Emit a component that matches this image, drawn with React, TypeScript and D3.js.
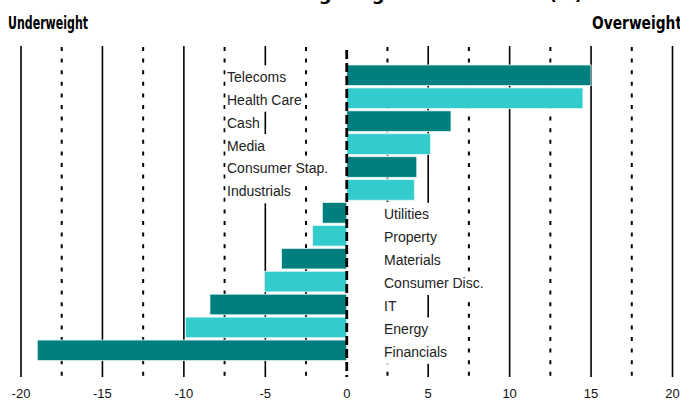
import React, { useEffect, useRef } from "react";
import * as d3 from "d3";

const categories = [
  "Telecoms",
  "Health Care",
  "Cash",
  "Media",
  "Consumer Stap.",
  "Industrials",
  "Utilities",
  "Property",
  "Materials",
  "Consumer Disc.",
  "IT",
  "Energy",
  "Financials",
];
const values = [15.0, 14.5, 6.4, 5.15, 4.3, 4.15, -1.5, -2.1, -4.0, -5.05, -8.4, -9.9, -19.0];
const tickValues = [-20, -15, -10, -5, 0, 5, 10, 15, 20];
const minorTicks = [-17.5, -12.5, -7.5, -2.5, 2.5, 7.5, 12.5, 17.5];
const titleText = "Portfolio sector weightings vs benchmark (%)";
const leftHeader = "Underweight";
const rightHeader = "Overweight";

const W = 680;
const H = 405;
const DARK = "#017f7f";
const LIGHT = "#33cccc";

export default function App() {
  const ref = useRef<SVGSVGElement | null>(null);

  useEffect(() => {
    const svg = d3.select(ref.current);
    svg.selectAll("*").remove();

    const x = d3.scaleLinear().domain([-20, 20]).range([21, 672.5]);
    const y = d3
      .scaleBand<string>()
      .domain(categories)
      .range([63.85, 361.8])
      .paddingInner(0.1)
      .paddingOuter(0.05);
    const step = y.step();
    const gridTop = 46;
    const gridBottom = 377;

    // title (cut off at top, as in the reference)
    svg
      .append("text")
      .attr("x", 352)
      .attr("y", -0.5)
      .attr("text-anchor", "middle")
      .attr("font-family", "'Liberation Sans Narrow', 'DejaVu Sans Condensed', sans-serif")
      .attr("font-weight", "bold")
      .attr("font-size", 18)
      .attr("textLength", 462)
      .attr("lengthAdjust", "spacingAndGlyphs")
      .attr("fill", "#000")
      .text(titleText);

    svg
      .append("text")
      .attr("x", 8)
      .attr("y", 29)
      .attr("font-family", "'Liberation Sans Narrow', 'DejaVu Sans Condensed', sans-serif")
      .attr("font-weight", "bold")
      .attr("font-size", 17)
      .attr("textLength", 80)
      .attr("lengthAdjust", "spacingAndGlyphs")
      .attr("fill", "#000")
      .text(leftHeader);

    svg
      .append("text")
      .attr("x", 592)
      .attr("y", 29)
      .attr("font-family", "'Liberation Sans Narrow', 'DejaVu Sans Condensed', sans-serif")
      .attr("font-weight", "bold")
      .attr("font-size", 17)
      .attr("textLength", 90)
      .attr("lengthAdjust", "spacingAndGlyphs")
      .attr("fill", "#000")
      .text(rightHeader);

    // gridlines
    const grid = svg.append("g");
    grid
      .selectAll("line.major")
      .data(tickValues.filter((d) => d !== 0))
      .join("line")
      .attr("class", "major")
      .attr("x1", (d) => x(d))
      .attr("x2", (d) => x(d))
      .attr("y1", gridTop)
      .attr("y2", gridBottom)
      .attr("stroke", "#000")
      .attr("stroke-width", 1.6);
    grid
      .selectAll("line.minor")
      .data(minorTicks)
      .join("line")
      .attr("class", "minor")
      .attr("x1", (d) => x(d))
      .attr("x2", (d) => x(d))
      .attr("y1", gridTop + 1)
      .attr("y2", gridBottom)
      .attr("stroke", "#000")
      .attr("stroke-width", 2)
      .attr("stroke-dasharray", "4,7.6");

    // labels with white boxes
    const labels = svg.append("g");
    categories.forEach((c, i) => {
      const v = values[i];
      const lx = v >= 0 ? 227 : 384;
      const cy = (y(c) as number) + y.bandwidth() / 2;
      const g = labels.append("g");
      const rect = g.append("rect").attr("fill", "#fff");
      const t = g
        .append("text")
        .attr("x", lx)
        .attr("y", cy + 6.5)
        .attr("font-family", "'Liberation Sans', Arial, sans-serif")
        .attr("font-size", 14)
        .attr("fill", "#222")
        .text(c);
      const bb = (t.node() as SVGTextElement).getBBox();
      rect
        .attr("x", bb.x - 1.5)
        .attr("y", cy - step / 2 + 1.5)
        .attr("width", bb.width + 3)
        .attr("height", step + 0.5);
    });

    // bars
    svg
      .append("g")
      .selectAll("rect")
      .data(categories)
      .join("rect")
      .attr("x", (c, i) => x(Math.min(0, values[i])))
      .attr("y", (c) => y(c) as number)
      .attr("width", (c, i) => Math.abs(x(values[i]) - x(0)))
      .attr("height", y.bandwidth())
      .attr("fill", (c, i) => (i % 2 === 0 ? DARK : LIGHT))
      .attr("stroke", "#e8f4f4")
      .attr("stroke-width", 0.8);

    // zero line
    svg
      .append("line")
      .attr("x1", x(0))
      .attr("x2", x(0))
      .attr("y1", gridTop + 4)
      .attr("y2", gridBottom)
      .attr("stroke", "#000")
      .attr("stroke-width", 2.8)
      .attr("stroke-dasharray", "9,4");

    // tick labels
    svg
      .append("g")
      .selectAll("text")
      .data(tickValues)
      .join("text")
      .attr("x", (d) => x(d))
      .attr("y", 398)
      .attr("text-anchor", "middle")
      .attr("font-family", "'Liberation Sans', Arial, sans-serif")
      .attr("font-size", 13)
      .attr("fill", "#111")
      .text((d) => String(d));
  }, []);

  return (
    <svg
      ref={ref}
      width={W}
      height={H}
      style={{ position: "absolute", left: 0, top: 0, background: "#fff" }}
    />
  );
}
